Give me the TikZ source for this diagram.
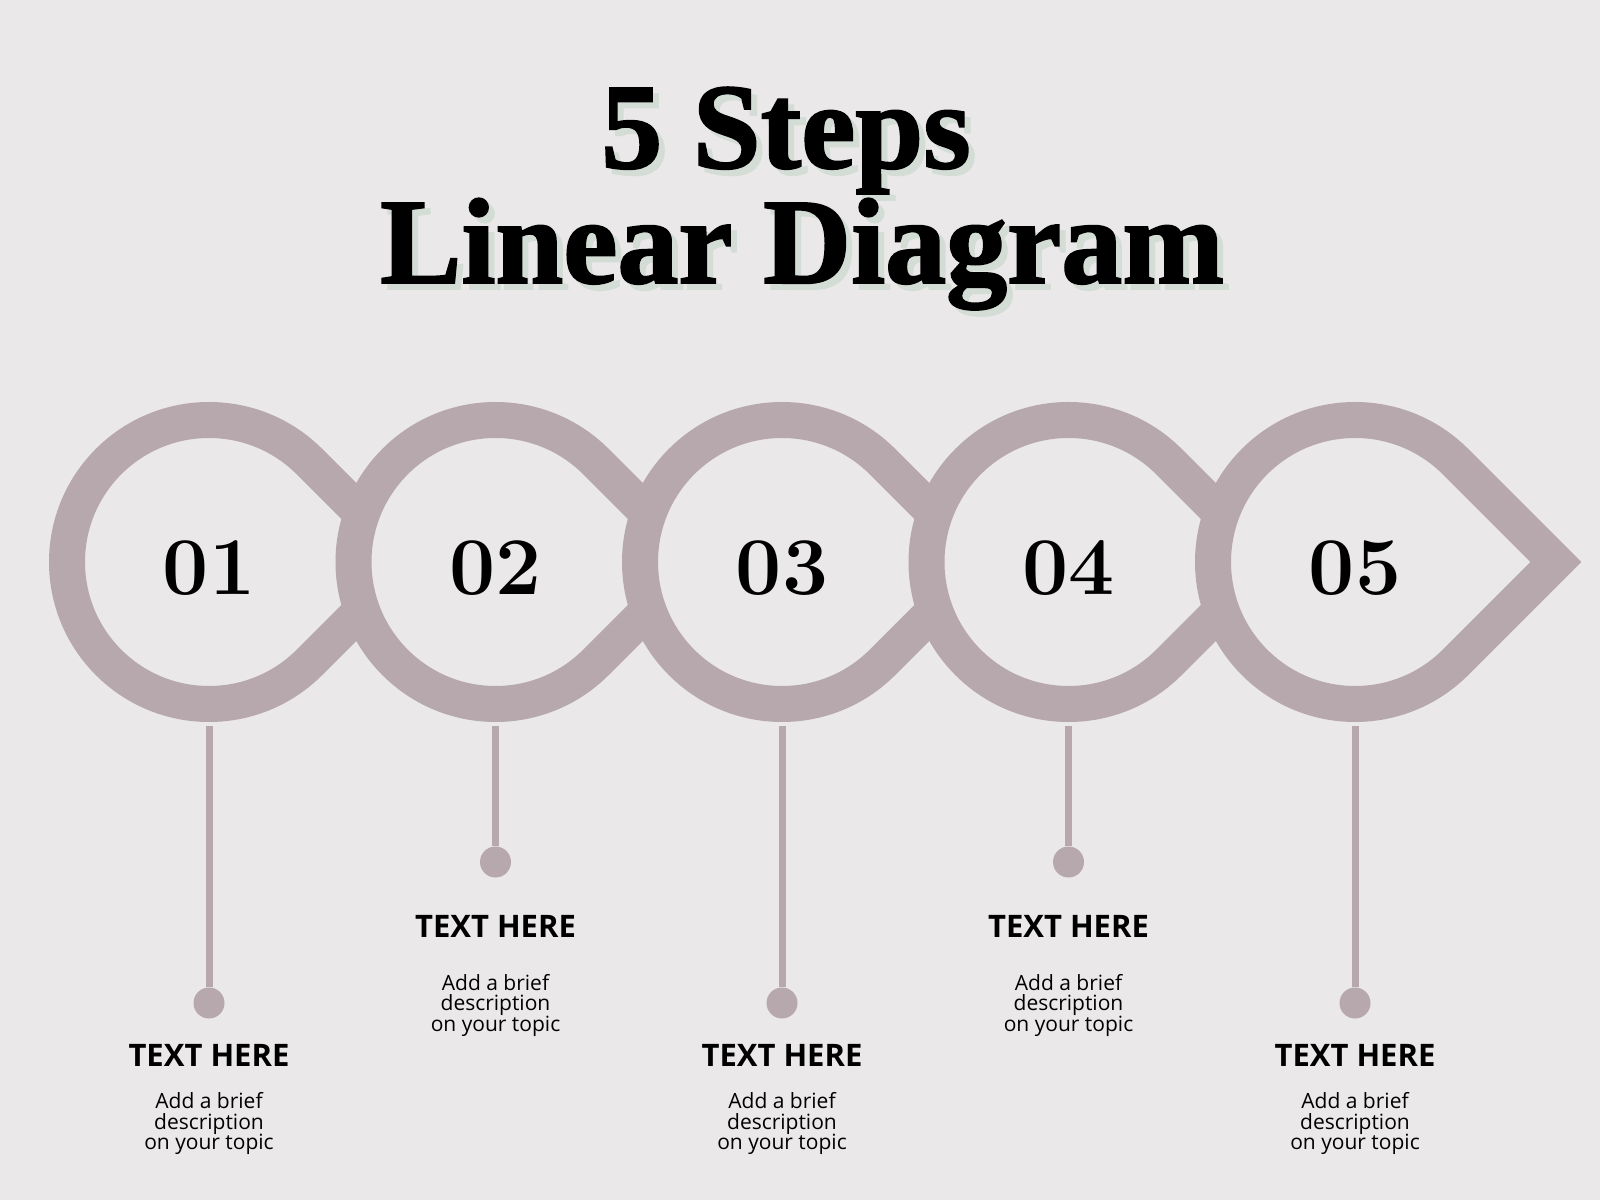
\documentclass[tikz,border=0pt]{standalone}
\usepackage{fontspec}
\usetikzlibrary{positioning}
\newfontfamily\titlefont[BoldFont={Liberation Serif Bold},BoldFeatures={FakeBold=1.6}]{Liberation Serif}
\newfontfamily\bodyfont{Open Sans}
\definecolor{paper}{HTML}{EAE8E9}
\definecolor{mauve}{HTML}{B7A8AD}
\definecolor{mint}{HTML}{D3DDD6}

\tikzset{
  drop/.style={draw=mauve,line width=36pt,fill=paper,miter limit=10},
  num/.style={font=\fontsize{82}{82}\selectfont\bfseries,anchor=base,inner sep=0pt},
  dot/.style={circle,fill=mauve,minimum size=31pt,inner sep=0pt},
  stem/.style={draw=mauve,line width=7pt},
  head/.style={font=\bodyfont\bfseries\fontsize{31}{31}\selectfont,inner sep=0pt},
  desc/.style={font=\bodyfont\fontsize{21}{20.5}\selectfont,align=center,inner sep=0pt},
  heading/.style={font=\titlefont\bfseries\fontsize{122}{122}\selectfont,anchor=base,inner sep=0pt}
}

\begin{document}
\begin{tikzpicture}[x=1pt,y=1pt]
    \fill[paper] (0,0) rectangle (1600,1200);

    \node[heading,text=mint] (shadow1) at (792,1026) {5 Steps};
    \node[heading] (title1) at (786,1032) {5 Steps};
    \node[heading,text=mint] (shadow2) at (808,911) {Linear Diagram};
    \node[heading] (title2) at (802,917) {Linear Diagram};

    \coordinate (c1) at (209,638);
    \coordinate (c2) at (495.5,638);
    \coordinate (c3) at (782,638);
    \coordinate (c4) at (1068.5,638);
    \coordinate (c5) at (1355,638);

    \draw[drop] (c1) ++(45:142) arc[start angle=45,end angle=315,radius=142pt] -- ++(100.4,100.4) -- cycle;
    \draw[drop] (c2) ++(45:142) arc[start angle=45,end angle=315,radius=142pt] -- ++(100.4,100.4) -- cycle;
    \draw[drop] (c3) ++(45:142) arc[start angle=45,end angle=315,radius=142pt] -- ++(100.4,100.4) -- cycle;
    \draw[drop] (c4) ++(45:142) arc[start angle=45,end angle=315,radius=142pt] -- ++(100.4,100.4) -- cycle;
    \draw[drop] (c5) ++(45:142) arc[start angle=45,end angle=315,radius=142pt] -- ++(100.4,100.4) -- cycle;

    \node[num] (n1) at (209,605) {01};
    \node[num] (n2) at (495.5,605) {02};
    \node[num] (n3) at (782,605) {03};
    \node[num] (n4) at (1068.5,605) {04};
    \node[num] (n5) at (1355,605) {05};

    \coordinate (b1) at (209,474);
    \coordinate (b2) at (495.5,474);
    \coordinate (b3) at (782,474);
    \coordinate (b4) at (1068.5,474);
    \coordinate (b5) at (1355,474);

    \node[dot] (d1) at (209,197) {};
    \node[dot] (d2) at (495.5,338) {};
    \node[dot] (d3) at (782,197) {};
    \node[dot] (d4) at (1068.5,338) {};
    \node[dot] (d5) at (1355,197) {};

    \node[head] (h1) [below=25pt of d1] {TEXT HERE};
    \node[head] (h2) [below=37pt of d2] {TEXT HERE};
    \node[head] (h3) [below=25pt of d3] {TEXT HERE};
    \node[head] (h4) [below=37pt of d4] {TEXT HERE};
    \node[head] (h5) [below=25pt of d5] {TEXT HERE};

    \node[desc] (t1) [below=26pt of h1] {Add a brief\\description\\on your topic};
    \node[desc] (t2) [below=37pt of h2] {Add a brief\\description\\on your topic};
    \node[desc] (t3) [below=26pt of h3] {Add a brief\\description\\on your topic};
    \node[desc] (t4) [below=37pt of h4] {Add a brief\\description\\on your topic};
    \node[desc] (t5) [below=26pt of h5] {Add a brief\\description\\on your topic};

    \path[stem]
    (b1) edge (d1)
    (b2) edge (d2)
    (b3) edge (d3)
    (b4) edge (d4)
    (b5) edge (d5)
    ;
\end{tikzpicture}
\end{document}
